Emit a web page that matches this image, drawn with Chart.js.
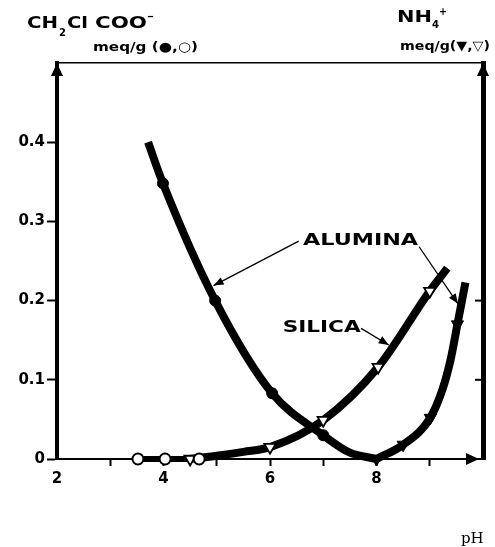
<!DOCTYPE html>
<html>
<head>
<meta charset="utf-8">
<script src="https://cdn.jsdelivr.net/npm/chart.js@4.4.1/dist/chart.umd.min.js"></script>
<style>
  html, body { margin: 0; padding: 0; background: #fff; }
  #wrap { width: 495px; height: 547px; }
</style>
</head>
<body>
<div id="wrap"><canvas id="chart"></canvas></div>
<script>
// DATA (pH vs meq/g)
// chloroacetate on alumina (filled circles)
const phAcidAlumina = [3.71, 3.99, 4.97, 6.04, 7.0, 7.5, 8.0];
const acidAlumina = [0.40, 0.348, 0.20, 0.083, 0.030, 0.008, 0.0];
const phAcidAluminaPts = [3.99, 4.97, 6.04, 7.0];
const acidAluminaPts = [0.348, 0.20, 0.083, 0.030];
// chloroacetate on silica (open circles)
const phAcidSilica = [3.52, 4.03, 4.67];
const acidSilica = [0, 0, 0];
// ammonium on silica (open triangles)
const phNH4Silica = [4.5, 5.0, 5.5, 6.0, 7.0, 8.03, 9.0, 9.33];
const nh4Silica = [0, 0.004, 0.009, 0.015, 0.049, 0.116, 0.212, 0.241];
const phNH4SilicaPts = [4.5, 6.0, 7.0, 8.03, 9.0];
const nh4SilicaPts = [0, 0.015, 0.049, 0.116, 0.212];
// ammonium on alumina (filled triangles)
const phNH4Alumina = [8.0, 8.5, 9.01, 9.24, 9.39, 9.52, 9.67];
const nh4Alumina = [0, 0.018, 0.052, 0.088, 0.125, 0.170, 0.223];
const phNH4AluminaPts = [8.0, 8.5, 9.01, 9.52];
const nh4AluminaPts = [0, 0.018, 0.052, 0.170];

const xTickLabels = ['2', '4', '6', '8'];
const yTickLabels = ['0', '0.1', '0.2', '0.3', '0.4'];
const rightTickMarks = [0.1, 0.2];

// curve labels and their pointer arrows, in data units
const notes = [
  { text: 'ALUMINA', x: 7.70, y: 0.276, w: 115 },
  { text: 'SILICA', x: 6.97, y: 0.166, w: 78 }
];
const pointers = [
  [6.54, 0.275, 4.94, 0.219],
  [8.80, 0.268, 9.53, 0.196],
  [7.71, 0.165, 8.23, 0.144]
];

const FONT = '"DejaVu Sans", sans-serif';

function pts(xs, ys) {
  return xs.map((x, i) => ({ x: x, y: ys[i] }));
}

// draws bold text squeezed/stretched to a given width
function fitText(ctx, str, left, cy, size, width) {
  ctx.save();
  ctx.font = `bold ${size}px ${FONT}`;
  ctx.textBaseline = 'middle';
  ctx.textAlign = 'left';
  const w = ctx.measureText(str).width;
  ctx.translate(left, cy);
  ctx.scale(width / w, 1);
  ctx.fillText(str, 0, 0);
  ctx.restore();
}

function arrowHead(ctx, x1, y1, x2, y2, len, half) {
  const a = Math.atan2(y2 - y1, x2 - x1);
  ctx.beginPath();
  ctx.moveTo(x2, y2);
  ctx.lineTo(x2 - len * Math.cos(a) + half * Math.sin(a), y2 - len * Math.sin(a) - half * Math.cos(a));
  ctx.lineTo(x2 - len * Math.cos(a) - half * Math.sin(a), y2 - len * Math.sin(a) + half * Math.cos(a));
  ctx.closePath();
  ctx.fill();
}

const extras = {
  id: 'extras',
  afterDraw(chart) {
    const ctx = chart.ctx;
    const xs = chart.scales.x;
    const ys = chart.scales.y;
    const area = chart.chartArea;
    ctx.save();
    ctx.fillStyle = '#000';
    ctx.strokeStyle = '#000';

    // axis arrows
    arrowHead(ctx, area.left, area.top + 20, area.left, area.top, 13, 6);
    arrowHead(ctx, area.right, area.top + 20, area.right, area.top, 13, 6);
    arrowHead(ctx, area.right - 30, area.bottom, area.right - 4, area.bottom, 13, 6);

    // small inward marks on the right axis
    ctx.lineWidth = 2;
    rightTickMarks.forEach(v => {
      const py = ys.getPixelForValue(v);
      ctx.beginPath();
      ctx.moveTo(area.right - 8, py);
      ctx.lineTo(area.right, py);
      ctx.stroke();
    });

    // headers
    fitText(ctx, 'CH', 27, 24, 16, 31);
    fitText(ctx, '2', 59, 33, 11, 7);
    fitText(ctx, 'Cl', 67, 24, 16, 21);
    fitText(ctx, 'COO', 95, 24, 16, 52);
    fitText(ctx, '\u2212', 147, 17, 11, 7);
    fitText(ctx, 'meq/g (\u25CF,\u25CB)', 93, 48, 13, 105);

    fitText(ctx, 'NH', 397, 18, 16, 35);
    fitText(ctx, '4', 432, 25, 11, 7);
    fitText(ctx, '+', 439, 12, 11, 8);
    fitText(ctx, 'meq/g(\u25BC,\u25BD)', 400, 47, 13, 90);

    // curve labels
    notes.forEach(n => {
      const cx = xs.getPixelForValue(n.x);
      const cy = ys.getPixelForValue(n.y);
      fitText(ctx, n.text, cx - n.w / 2, cy, 16, n.w);
    });
    ctx.lineWidth = 1.3;
    pointers.forEach(p => {
      const x1 = xs.getPixelForValue(p[0]), y1 = ys.getPixelForValue(p[1]);
      const x2 = xs.getPixelForValue(p[2]), y2 = ys.getPixelForValue(p[3]);
      ctx.beginPath();
      ctx.moveTo(x1, y1);
      ctx.lineTo(x2, y2);
      ctx.stroke();
      arrowHead(ctx, x1, y1, x2, y2, 10, 4);
    });

    // x axis title
    ctx.font = '15px "DejaVu Serif", serif';
    ctx.textAlign = 'left';
    ctx.textBaseline = 'alphabetic';
    ctx.fillText('pH', 461, 543);
    ctx.restore();
  }
};

const curveStyle = {
  showLine: true,
  borderColor: '#000',
  borderWidth: 8,
  pointRadius: 0,
  cubicInterpolationMode: 'monotone',
  clip: false,
  order: 1
};

new Chart(document.getElementById('chart'), {
  type: 'scatter',
  data: {
    datasets: [
      Object.assign({ data: pts(phAcidAlumina, acidAlumina) }, curveStyle),
      Object.assign({ data: pts(phNH4Silica, nh4Silica) }, curveStyle),
      Object.assign({ data: pts(phNH4Alumina, nh4Alumina) }, curveStyle),
      Object.assign({ data: pts(phAcidSilica, acidSilica) }, curveStyle, { borderWidth: 6 }),
      {
        data: pts(phAcidAluminaPts, acidAluminaPts), order: 0,
        pointStyle: 'circle', pointRadius: 5.5,
        backgroundColor: '#000', borderColor: '#000', borderWidth: 1, clip: false
      },
      {
        data: pts(phAcidSilica, acidSilica), order: 0,
        pointStyle: 'circle', pointRadius: 5.5,
        backgroundColor: '#fff', borderColor: '#000', borderWidth: 2, clip: false
      },
      {
        data: pts(phNH4SilicaPts, nh4SilicaPts), order: 0,
        pointStyle: 'triangle', rotation: 180, pointRadius: 6.5,
        backgroundColor: '#fff', borderColor: '#000', borderWidth: 1.8, clip: false
      },
      {
        data: pts(phNH4AluminaPts, nh4AluminaPts), order: 0,
        pointStyle: 'triangle', rotation: 180, pointRadius: 7,
        backgroundColor: '#000', borderColor: '#000', borderWidth: 1, clip: false
      }
    ]
  },
  options: {
    responsive: true,
    maintainAspectRatio: false,
    animation: false,
    layout: { padding: { top: 63, right: 12, bottom: 58, left: 0 } },
    plugins: { legend: { display: false }, tooltip: { enabled: false } },
    scales: {
      x: {
        type: 'linear', position: 'bottom', min: 2, max: 10,
        border: { display: true, color: '#000', width: 2 },
        grid: {
          drawOnChartArea: false, tickLength: 7, tickWidth: 2,
          tickColor: c => (c.tick && c.tick.value > 2 && c.tick.value < 10) ? '#000' : 'rgba(0,0,0,0)'
        },
        ticks: {
          stepSize: 1, padding: 4, color: '#000',
          font: { family: FONT, size: 15, weight: 'bold' },
          callback: v => xTickLabels.includes(String(v)) ? String(v) : ''
        },
        afterFit: s => { s.height = 30; }
      },
      xTop: {
        type: 'linear', position: 'top', min: 2, max: 10,
        border: { display: true, color: '#000', width: 1.5 },
        grid: { display: false },
        ticks: { display: false },
        afterFit: s => { s.height = 0; }
      },
      y: {
        type: 'linear', position: 'left', min: 0, max: 0.5,
        border: { display: true, color: '#000', width: 4 },
        grid: {
          drawOnChartArea: false, tickLength: 10, tickWidth: 2,
          tickColor: c => (c.index < yTickLabels.length) ? '#000' : 'rgba(0,0,0,0)'
        },
        ticks: {
          stepSize: 0.1, padding: 2, color: '#000',
          font: { family: FONT, size: 15, weight: 'bold' },
          callback: (v, i) => yTickLabels[i] || ''
        },
        afterFit: s => { s.width = 57; }
      },
      yRight: {
        type: 'linear', position: 'right', min: 0, max: 0.5,
        border: { display: true, color: '#000', width: 5 },
        grid: { display: false },
        ticks: { display: false },
        afterFit: s => { s.width = 0; }
      }
    }
  },
  plugins: [extras]
});
</script>
</body>
</html>
